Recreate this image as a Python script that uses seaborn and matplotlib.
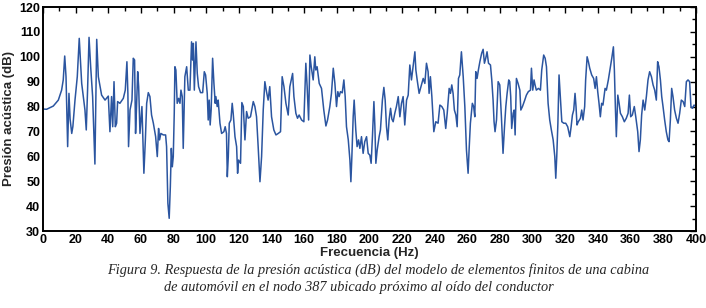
import matplotlib
matplotlib.use("Agg")
import matplotlib.pyplot as plt
import seaborn as sns
import pandas as pd
from matplotlib.ticker import MultipleLocator

freq_hz = [0, 2.2, 6.3, 9.4, 11.4, 12.4, 13.3, 14.1, 15.1, 15.9, 16.6, 17.6, 18.3, 19.6, 21, 22.2, 23.7, 25.7, 26.5,
           27.3, 28.2, 29.2, 30.4, 31.8, 32.3, 32.9, 33.9, 35.9, 38, 40, 41, 42, 42.7, 43.5, 44.3, 45.1, 45.7, 47.1,
           49.2, 50.4, 51.4, 52, 52.4, 53.3, 54.5, 55.3, 56.1, 56.7, 57.3, 58, 58.6, 59.4, 60.6, 61.8, 62.7, 63.5,
           64.5, 65.5, 66.5, 67.6, 69, 70, 70.8, 71.4, 72.2, 73.7, 75.1, 75.7, 76.5, 77.3, 78, 78.6, 79.2, 79.8,
           80.4, 80.8, 81.4, 82.2, 83.1, 83.9, 84.5, 85.3, 85.9, 86.9, 88, 89, 90, 91, 91.6, 92.1, 92.7, 93.7, 94.5,
           95.3, 96.5, 97.8, 98.8, 99.6, 100.6, 101.2, 101.8, 102.4, 103, 103.9, 104.7, 105.5, 105.9, 106.7, 107.3,
           108.4, 109.4, 110.8, 111.6, 112.4, 112.9, 113.5, 114.1, 115.1, 115.9, 116.5, 117.6, 118.6, 119.2, 119.8,
           121, 121.8, 122.7, 123.7, 124.7, 125.7, 127.1, 128.8, 129.8, 130.8, 131.8, 132.9, 133.9, 134.9, 135.9,
           136.9, 137.9, 138.9, 140, 141.4, 142.7, 144.1, 145.5, 146.5, 147.6, 148.8, 150.2, 151.2, 152.9, 153.7,
           154.9, 155.9, 156.9, 158.4, 159.8, 161, 161.8, 162.7, 163.5, 164.3, 165.5, 166.5, 167.1, 167.9, 169.2,
           170.6, 172, 173.3, 174.3, 175.7, 176.7, 177.8, 178.8, 179.8, 180.6, 181.4, 182.2, 183.3, 184.3, 185.1,
           185.9, 187, 188, 188.6, 189.2, 190, 190.6, 191.6, 192.4, 193.3, 194.1, 195.1, 196.1, 197.1, 198.2, 199.2,
           200.2, 201, 201.8, 202.7, 203.3, 203.9, 204.7, 205.9, 206.7, 207.9, 208.8, 209.6, 210.4, 211.2, 212,
           212.9, 213.7, 214.5, 215.5, 216.5, 217.6, 218.6, 219.6, 220.6, 221.6, 222.7, 223.7, 224.7, 225.7, 226.7,
           227.8, 228.4, 229.2, 230.4, 231.8, 232.9, 233.9, 234.9, 235.9, 236.5, 237.3, 238.2, 239.4, 240.6, 242,
           243.1, 244.3, 245.5, 246.7, 247.6, 248.8, 249.6, 250.4, 251.2, 252, 252.9, 253.7, 254.5, 255.3, 256.3,
           257.4, 258.4, 259.4, 260.4, 261, 261.8, 263, 263.8, 264.5, 265.1, 265.9, 266.7, 267.6, 268.7, 269.6,
           270.4, 271.2, 272, 272.9, 274.1, 274.9, 275.7, 276.3, 276.9, 277.8, 278.8, 279.8, 280.8, 281.8, 282.7,
           283.5, 284.3, 285.3, 285.9, 286.5, 287.1, 288, 288.6, 289.2, 290, 291, 292.1, 292.7, 293.7, 295.1, 296.1,
           297.3, 298.6, 299.2, 300, 300.8, 301.4, 302.2, 303.5, 304.7, 305.5, 306.7, 307.6, 308.4, 309.4, 310.4,
           311.4, 312.5, 313.5, 314.1, 314.7, 315.4, 316.1, 317, 317.8, 319, 320.2, 321.4, 322.7, 323.5, 324.3,
           325.1, 325.9, 326.5, 327.1, 327.9, 329.2, 330, 330.8, 331.8, 332.4, 333.3, 334.1, 334.9, 336.1, 337.3,
           338.2, 339, 339.8, 340.6, 341.4, 342.2, 343, 344.3, 345.1, 346.3, 347.6, 348.4, 349.4, 350, 350.6, 351.2,
           352.1, 352.9, 353.7, 354.9, 356.1, 357.3, 358.4, 359.2, 360, 361, 362.2, 363.1, 364.3, 365.1, 365.9,
           366.7, 367.6, 368.6, 369.6, 370.6, 371.6, 372.7, 373.7, 374.7, 375.7, 376.5, 377.3, 378.2, 379, 379.8,
           380.8, 381.8, 382.8, 383.5, 384.3, 385.1, 385.9, 386.9, 388, 389, 390, 391, 392.1, 393.1, 394.1, 395.1,
           396.1, 396.9, 397.8, 398.8, 400]

spl_db = [79, 78.9, 80.2, 82.6, 86.6, 90.7, 100.3, 92, 63.9, 85.3, 75, 69.2, 72, 82.6, 92, 107.4, 89.3, 78.6, 70.6,
          86.6, 107.8, 96, 84, 56.9, 80, 107, 92, 84.6, 82.6, 84.2, 69.9, 84, 71.9, 90, 71.9, 73.3, 82, 81.3,
          83.3, 86.6, 98, 85.3, 63.9, 78.6, 82.6, 99.4, 98.7, 69.2, 80, 94, 88, 69.2, 80, 53.2, 66.6, 81.3,
          85.6, 84, 76.6, 73.3, 67.9, 59.9, 71.2, 66.6, 69.2, 68.6, 68.6, 63.9, 41.1, 35.1, 47.8, 63.2, 55.8, 59.9,
          77.3, 96, 94.7, 81.3, 83.3, 81.3, 86.6, 84, 63.2, 92, 96, 86.6, 86.6, 106, 98.7, 105.4, 86.6, 106, 93.3,
          88, 85.6, 85.6, 94, 92.7, 85.3, 74.6, 82.6, 72.6, 78.6, 99.4, 89.3, 81.3, 84, 80, 82.6,
          73.3, 69.2, 69.9, 71.9, 69.2, 51.8, 59.9, 73.3, 74.6, 81.3, 77.3, 67.9, 63.9, 53.2, 58.5,
          57.2, 81.6, 80, 66.6, 78, 75.3, 75.9, 82, 80, 75.9, 63.9, 49.8, 59.9, 78.6, 90,
          86, 82.6, 88, 75.9, 70.6, 68.6, 69.2, 69.9, 92, 88, 81.3, 76.6, 88, 93.3, 84,
          77.3, 75.3, 76.6, 74.6, 73.9, 97.4, 88, 74.6, 100.7, 96, 90.7, 100, 94.7, 96, 89.3,
          87.3, 78.6, 72.2, 74.6, 80, 85.3, 95.4, 89.3, 80, 86, 84, 86, 85.5, 90.7, 84,
          71.9, 66.6, 58.5, 49.8, 59.9, 75.9, 82.6, 70.6, 63.9, 66.6, 63.2, 67.9, 61.2, 65.9, 67.9, 61.2,
          60.5, 57.2, 67.9, 82, 71.9, 57.2, 62.5, 67.9, 70.6, 82.6, 87.7, 82.6, 71.9, 66.6, 74.6,
          79.3, 75, 73.9, 77.3, 80, 84, 75.9, 81.3, 84, 72.6, 82.6, 84.6, 96.7, 90.7, 96,
          102, 94.7, 90.7, 85.3, 88.7, 91.3, 89.3, 97.4, 94, 85.3, 92, 84, 69.9, 73.9, 73.3,
          80.6, 80, 78.6, 71.2, 77.3, 87.3, 85.3, 88.7, 85.3, 78.6, 76.6, 71.9, 91.3, 92.7, 102,
          92, 80, 62.5, 53.2, 62.5, 73.3, 81.3, 80, 75.9, 94, 91.3, 94.7, 98, 101.4, 103,
          97.4, 99.4, 102, 97.4, 96.7, 90.7, 82.6, 73.9, 69.9, 74.6, 90, 88.7, 75.9, 61.2, 71.9,
          80, 85.3, 90.7, 90, 84, 71.2, 77.3, 78.6, 68.6, 91.3, 89.3, 86.6, 78.6, 80, 82.6, 84.6,
          86, 86.6, 95.4, 86.6, 90.7, 88.7, 86.6, 87.3, 86.6, 94.7, 100.7, 99.4, 96, 81.3, 74.6,
          70.6, 66.6, 59.9, 51.2, 59.9, 73.3, 92.7, 82.6, 73.9, 73.3, 73.3, 71.9, 67.9, 71.9, 76.6,
          78.6, 85.3, 80, 72.6, 73.9, 75.3, 78.6, 74.6, 80, 90.7, 100, 98, 95.4, 92.7, 91.3,
          87.3, 92, 86, 81.3, 75.9, 81.3, 80.6, 87.3, 86.6, 90.7, 96, 99.4, 104, 94.7, 80, 67.9,
          84.6, 81.3, 77.3, 75.9, 73.9, 75.3, 77.3, 84.6, 75.9, 76.6, 80, 75.9, 69.9, 61.9, 66.6,
          76.6, 82.6, 78.6, 84, 90.7, 94, 92, 88.7, 86.6, 82.6, 98, 96, 90.7, 84, 80,
          74.6, 69.9, 66.6, 65.9, 74.6, 87.3, 84, 78.6, 75.3, 73.3, 77.3, 82.6, 82, 80, 90, 90.7,
          90, 80, 79.3, 80.6, 80]

x_ticks = list(range(0, 401, 20))
y_ticks = list(range(30, 121, 10))
x_label = "Frecuencia (Hz)"
y_label = "Presión acústica (dB)"
caption_1 = "Figura 9. Respuesta de la presión acústica (dB) del modelo de elementos finitos de una cabina"
caption_2 = "de automóvil en el nodo 387 ubicado próximo al oído del conductor"

df = pd.DataFrame({"f": freq_hz, "p": spl_db})

sns.set_theme(style="white")
plt.rcParams["font.family"] = ["Liberation Sans", "DejaVu Sans"]

fig = plt.figure(figsize=(7.06, 3.08), dpi=100)
ax = fig.add_axes([43 / 706, 1 - 231 / 308, (696 - 43) / 706, (231 - 7) / 308])
sns.lineplot(data=df, x="f", y="p", ax=ax, color="#2b55a0", linewidth=1.1,
             estimator=None, sort=False)

ax.set_xlim(0, 400)
ax.set_ylim(30, 120)
ax.set_xticks(x_ticks)
ax.set_yticks(y_ticks)
ax.xaxis.set_minor_locator(MultipleLocator(10))
ax.yaxis.set_minor_locator(MultipleLocator(5))
ax.tick_params(which="both", direction="in", top=True, right=True, colors="black",
               labelsize=9, pad=2)
ax.tick_params(which="major", length=4, width=1)
ax.tick_params(which="minor", length=3, width=1)
for lbl in ax.get_xticklabels() + ax.get_yticklabels():
    lbl.set_fontweight("bold")
for s in ax.spines.values():
    s.set_color("black")
    s.set_linewidth(1.4)
ax.set_xlabel(x_label, fontsize=9.5, fontweight="bold", labelpad=1)
ax.set_ylabel(y_label, fontsize=9.5, fontweight="bold", labelpad=3)

fig.text(378 / 706, 1 - 270 / 308, caption_1, ha="center", va="center",
         family=["Liberation Serif"], style="italic", fontsize=10.3)
fig.text(359 / 706, 1 - 287 / 308, caption_2, ha="center", va="center",
         family=["Liberation Serif"], style="italic", fontsize=10.3)

fig.savefig("out.png", dpi=100)
